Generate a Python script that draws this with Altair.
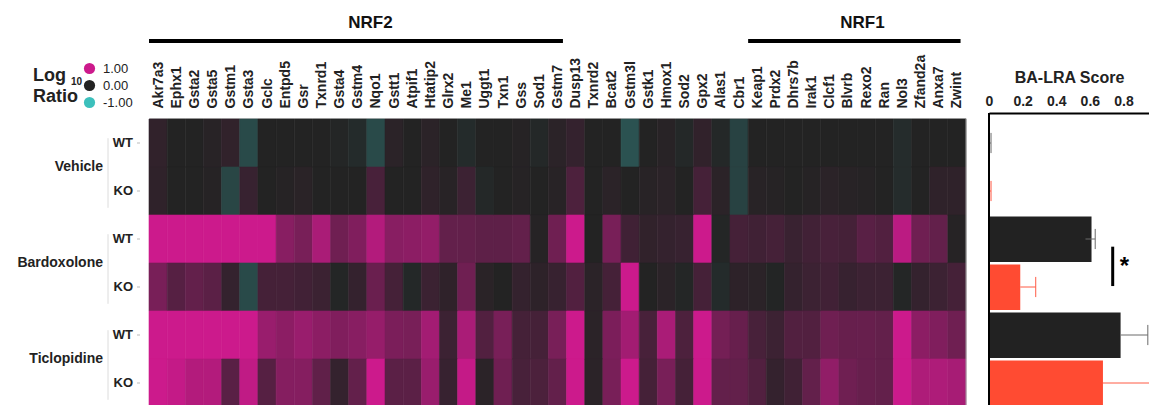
import altair as alt
import pandas as pd

# ---------------- data ----------------
genes = ["Akr7a3", "Ephx1", "Gsta2", "Gsta5", "Gstm1", "Gsta3", "Gclc", "Entpd5", "Gsr", "Txnrd1",
         "Gsta4", "Gstm4", "Nqo1", "Gstt1", "Atpif1", "Htatip2", "Glrx2", "Me1", "Uggt1", "Txn1",
         "Gss", "Sod1", "Gstm7", "Dusp13", "Txnrd2", "Bcat2", "Gstm3l", "Gstk1", "Hmox1", "Sod2",
         "Gpx2", "Alas1", "Cbr1", "Keap1", "Prdx2", "Dhrs7b", "Irak1", "Clcf1", "Blvrb", "Rexo2",
         "Ran", "Nol3", "Zfand2a", "Anxa7", "Zwint"]

conditions = ["Vehicle", "Vehicle", "Bardoxolone", "Bardoxolone", "Ticlopidine", "Ticlopidine"]
genotypes = ["WT", "KO", "WT", "KO", "WT", "KO"]
group_names = ["Vehicle", "Bardoxolone", "Ticlopidine"]

# log10 ratio per gene, one list per row
vehicle_wt = [0.08, 0, 0, 0.03, 0.08, -0.25, 0, 0, 0, 0, -0.02, -0.05, -0.25, 0.05, 0,
              0.05, 0, -0.05, 0, 0, 0.02, -0.03, 0.05, 0.1, 0, 0, -0.3, 0, 0.03, -0.03,
              0.08, -0.03, -0.2, 0, 0, 0, 0, 0, 0, 0, 0, -0.06, 0, 0, 0]
vehicle_ko = [0.07, 0, 0, 0.02, -0.22, 0.12, 0, 0.02, 0.04, 0, 0, 0, 0.22, 0, 0,
              0.07, 0.03, 0.15, -0.03, 0, 0.02, 0, 0.03, 0.25, 0, 0.05, 0, 0.03, 0.05, 0,
              0.2, 0.05, -0.2, 0.03, 0.02, 0, 0.02, 0.05, 0.03, 0.02, 0, -0.06, 0, 0.07, 0.07]
bard_wt = [1.0, 1.0, 1.0, 1.0, 1.0, 1.0, 1.0, 0.6, 0.5, 0.8, 0.45, 0.55, 0.85, 0.6, 0.62,
           0.66, 0.38, 0.38, 0.35, 0.35, 0.38, 0.02, 0.45, 1.0, 0, 0.5, 0.17, 0.08, 0.1, 0.12,
           1.0, -0.02, 0.2, 0.17, 0.2, 0.13, 0.18, 0.22, 0.2, 0.32, 0.28, 0.9, 0.45, 0.38, 0.02]
bard_ko = [0.5, 0.3, 0.38, 0.33, 0.1, -0.25, 0.2, 0.2, 0.18, 0.14, -0.02, 0.1, 0.42, 0.2, -0.03,
           0.14, 0.07, 0.45, 0.04, 0, 0.1, 0.06, 0.12, 0.28, 0.05, 0.2, 1.0, 0, 0.05, -0.02,
           0.2, -0.05, 0.06, 0.05, -0.01, 0.1, 0.15, 0.18, 0.12, 0.15, 0.15, -0.02, 0.1, 0.15, 0.2]
tic_wt = [1.0, 1.0, 1.0, 1.0, 1.0, 1.0, 0.7, 0.62, 0.7, 0.62, 0.55, 0.6, 0.68, 0.52, 0.5,
          0.76, 0.15, 0.8, 0.28, 0.5, 0.2, 0.2, 0.5, 1.0, 0.05, 0.52, 0.75, 0.22, 0.8, 0.25,
          1.0, 0.48, 0.4, 0.22, 0.15, 0.28, 0.28, 0.45, 0.4, 0.4, 0.38, 1.0, 0.62, 0.55, 0.45]
tic_ko = [1.0, 0.95, 0.85, 0.85, 0.32, 0.93, 0.3, 0.58, 0.58, 0.36, 0.1, 0.38, 1.0, 0.33, 0.33,
          0.7, 0.12, 0.95, 0.05, 0.45, 0.22, 0.24, 0.38, 1.0, 0.05, 0.5, 1.0, 0.2, 0.5, 0.2,
          1.0, 0.38, 0.38, 0.28, 0.1, 0.17, 0.38, 0.65, 0.45, 0.4, 0.38, 1.0, 0.82, 0.82, 0.78]
heat_rows = [vehicle_wt, vehicle_ko, bard_wt, bard_ko, tic_wt, tic_ko]

# BA-LRA score per row (mean, lower error, upper error)
score = [0.004, 0.004, 0.61, 0.186, 0.783, 0.678]
err_lo = [0.0, 0.0, 0.036, 0.0, 0.0, 0.0]
err_hi = [0.008, 0.008, 0.022, 0.092, 0.162, 0.284]

# gene-set brackets (in gene-column units)
sets = ["NRF2", "NRF1"]
set_start = [0.0, 33.0]
set_end = [22.8, 44.7]
set_label_pos = [12.2, 39.3]

# significance marker (Bardoxolone WT vs KO)
sig_x = 0.736
sig_y0, sig_y1 = 2.66, 3.48
star_x, star_y = 0.806, 3.08

axis_ticks_bar = [0, 0.2, 0.4, 0.6, 0.8]
legend_values = [1, 0, -1]

# ---------------- styling ----------------
FONT = "Liberation Sans"
TEAL, ZERO, MAGENTA = "#3cc0bc", "#232323", "#cc1a8c"
WT_BAR, KO_BAR = "#222222", "#ff4b32"
WT_ERR, KO_ERR = "#6a6a6a", "#ff5a45"

W_HEAT = 817      # heatmap width
BAR0 = 840        # start of bar panel
W_ALL = 1000      # svg must not exceed the page's content width
H_ROWS = 288
H_VIEW = 286

# ---------------- tables ----------------
recs = []
for r, vals in enumerate(heat_rows):
    for c, v in enumerate(vals):
        recs.append(dict(row=r, row2=r + 1, col=c, col2=c + 1, gene=genes[c], value=v,
                         condition=conditions[r], genotype=genotypes[r]))
heat = pd.DataFrame(recs)

rowlab = pd.DataFrame(dict(row=list(range(6)), genotype=genotypes))
rowlab["mid"] = rowlab["row"] + 0.5

bars = pd.DataFrame(dict(row=list(range(6)), genotype=genotypes, score=score,
                         lo=[s - e for s, e in zip(score, err_lo)],
                         hi=[s + e for s, e in zip(score, err_hi)]))
bars["top"] = bars["row"] + 0.03
bars["bot"] = bars["row"] + 0.98
bars["mid"] = bars["row"] + 0.5
bars["cap0"] = bars["row"] + 0.29
bars["cap1"] = bars["row"] + 0.71
bars["zero"] = 0.0

groups = pd.DataFrame(dict(name=group_names, pos=[1, 3, 5]))
groups["b0"] = groups["pos"] - 0.6
groups["b1"] = groups["pos"] + 0.85

setdf = pd.DataFrame(dict(name=sets, start=set_start, end=set_end, mid=set_label_pos))
sigdf = pd.DataFrame(dict(x=[sig_x], y0=[sig_y0], y1=[sig_y1], sx=[star_x], sy=[star_y], t=["*"]))
framedf = pd.DataFrame(dict(x=[45.0], y0=[0.0], y1=[6.0], bx=[0.0], by0=[-0.125], by1=[6.2]))

# ---------------- scales ----------------
xh = alt.Scale(domain=[0, 45], range=[0, W_HEAT], nice=False, zero=False)
xb = alt.Scale(domain=[0, 0.952], range=[BAR0, W_ALL], nice=False, zero=False)
yr = alt.Scale(domain=[0, 6], range=[0, H_ROWS], nice=False, zero=False)
cscale = alt.Scale(domain=[-1, 0, 1], range=[TEAL, ZERO, MAGENTA], interpolate="rgb", clamp=True)

gene_expr = "[" + ",".join("'%s'" % g for g in genes) + "][floor(datum.value)]"

heat_rect = alt.Chart(heat).mark_rect(strokeWidth=0.6).encode(
    x=alt.X("col:Q", scale=xh, axis=alt.Axis(
        orient="top", values=[i + 0.5 for i in range(len(genes))], labelExpr=gene_expr,
        labelAngle=270, labelAlign="left", labelBaseline="middle", labelFont=FONT,
        labelFontSize=14, labelFontWeight="bold", labelColor="#222222", labelPadding=10,
        labelOverlap=False, labelBound=False, labelFlush=False, ticks=False, tickSize=0,
        domain=True, domainColor="#c8c8c8", domainWidth=1, offset=1, grid=False, title=None)),
    x2="col2:Q",
    y=alt.Y("row:Q", scale=yr, axis=None),
    y2="row2:Q",
    color=alt.Color("value:Q", scale=cscale, legend=alt.Legend(
        type="symbol", values=legend_values, format=".2f",
        labelExpr="replace(datum.label, '\u2212', '-')", orient="none",
        legendX=-66, legendY=-57, title=None, symbolType="circle", symbolSize=125,
        symbolStrokeWidth=0, labelFont=FONT, labelFontSize=13, labelColor="#222222",
        labelOffset=7, rowPadding=3, padding=0)),
    stroke=alt.Stroke("value:Q", scale=cscale, legend=None),
)

frame_right = alt.Chart(framedf).mark_rule(color="#a0a0a0", strokeWidth=1).encode(
    x=alt.X("x:Q", scale=xh, axis=None), y=alt.Y("y0:Q", scale=yr, axis=None), y2="y1:Q")

set_rules = alt.Chart(setdf).mark_rule(color="black", strokeWidth=4).encode(
    x=alt.X("start:Q", scale=xh, axis=None), x2="end:Q", y=alt.value(-78))
set_text = alt.Chart(setdf).mark_text(font=FONT, fontSize=17, fontWeight="bold",
                                      color="#111111", baseline="middle").encode(
    x=alt.X("mid:Q", scale=xh, axis=None), y=alt.value(-96), text="name:N")

row_text = alt.Chart(rowlab).mark_text(font=FONT, fontSize=13, fontWeight="bold",
                                       color="#222222", align="right", baseline="middle").encode(
    x=alt.value(-16), y=alt.Y("mid:Q", scale=yr, axis=None), text="genotype:N")
row_ticks = alt.Chart(rowlab).mark_rule(color="#bbbbbb", strokeWidth=1).encode(
    x=alt.value(-12), x2=alt.value(-9), y=alt.Y("mid:Q", scale=yr, axis=None))

group_text = alt.Chart(groups).mark_text(font=FONT, fontSize=14, fontWeight="bold",
                                         color="#222222", align="right", baseline="middle").encode(
    x=alt.value(-46), y=alt.Y("pos:Q", scale=yr, axis=None), text="name:N")
group_lines = alt.Chart(groups).mark_rule(color="#dcdcdc", strokeWidth=1).encode(
    x=alt.value(-41), y=alt.Y("b0:Q", scale=yr, axis=None), y2="b1:Q")

leg_log = alt.Chart(pd.DataFrame(dict(t=["Log"]))).mark_text(
    font=FONT, fontSize=18, fontWeight="bold", color="#222222", align="left",
    baseline="alphabetic").encode(x=alt.value(-116), y=alt.value(-38), text="t:N")
leg_10 = alt.Chart(pd.DataFrame(dict(t=["10"]))).mark_text(
    font=FONT, fontSize=10, fontWeight="bold", color="#222222", align="left",
    baseline="alphabetic").encode(x=alt.value(-78), y=alt.value(-34), text="t:N")
leg_ratio = alt.Chart(pd.DataFrame(dict(t=["Ratio"]))).mark_text(
    font=FONT, fontSize=18, fontWeight="bold", color="#222222", align="left",
    baseline="alphabetic").encode(x=alt.value(-116), y=alt.value(-17), text="t:N")

geno_bar = alt.Scale(domain=["WT", "KO"], range=[WT_BAR, KO_BAR])
geno_err = alt.Scale(domain=["WT", "KO"], range=[WT_ERR, KO_ERR])

bar_marks = alt.Chart(bars).mark_bar().encode(
    x=alt.X("score:Q", scale=xb, axis=alt.Axis(
        orient="top", values=axis_ticks_bar, format="~g", labelFont=FONT, labelFontSize=14,
        labelFontWeight="bold", labelColor="#222222", labelPadding=5, ticks=False, tickSize=0,
        domainColor="black", domainWidth=2, offset=6, grid=False, title="BA-LRA Score",
        titleFont=FONT, titleFontSize=16, titleFontWeight="bold", titleColor="#222222",
        titlePadding=9, labelFlush=False)),
    x2="zero:Q",
    y=alt.Y("top:Q", scale=yr, axis=None), y2="bot:Q",
    color=alt.Color("genotype:N", scale=geno_bar, legend=None),
)
err_lines = alt.Chart(bars).mark_rule(strokeWidth=1).encode(
    x=alt.X("lo:Q", scale=xb, axis=None), x2="hi:Q",
    y=alt.Y("mid:Q", scale=yr, axis=None),
    color=alt.Color("genotype:N", scale=geno_err, legend=None),
)
err_caps = alt.Chart(bars).mark_rule(strokeWidth=1).encode(
    x=alt.X("hi:Q", scale=xb, axis=None),
    y=alt.Y("cap0:Q", scale=yr, axis=None), y2="cap1:Q",
    color=alt.Color("genotype:N", scale=geno_err, legend=None),
)
bar_left = alt.Chart(framedf).mark_rule(color="black", strokeWidth=2).encode(
    x=alt.X("bx:Q", scale=xb, axis=None), y=alt.Y("by0:Q", scale=yr, axis=None), y2="by1:Q")
sig_rule = alt.Chart(sigdf).mark_rule(color="black", strokeWidth=3).encode(
    x=alt.X("x:Q", scale=xb, axis=None), y=alt.Y("y0:Q", scale=yr, axis=None), y2="y1:Q")
sig_star = alt.Chart(sigdf).mark_text(font=FONT, fontSize=24, fontWeight="bold",
                                      color="black", baseline="middle").encode(
    x=alt.X("sx:Q", scale=xb, axis=None), y=alt.Y("sy:Q", scale=yr, axis=None), text="t:N")

chart = alt.layer(
    heat_rect, frame_right, set_rules, set_text, row_ticks, row_text, group_lines, group_text,
    leg_log, leg_10, leg_ratio,
    bar_marks, err_lines, err_caps, bar_left, sig_rule, sig_star,
).resolve_scale(
    x="independent", color="independent", stroke="independent"
).properties(
    width=W_ALL, height=H_VIEW,
    autosize=alt.AutoSizeParams(type="none"),
    padding={"left": 141, "top": 111, "right": 0, "bottom": 0},
).configure(font=FONT).configure_view(stroke=None)

chart.save("out.html", embed_options={"renderer": "svg", "actions": False})
